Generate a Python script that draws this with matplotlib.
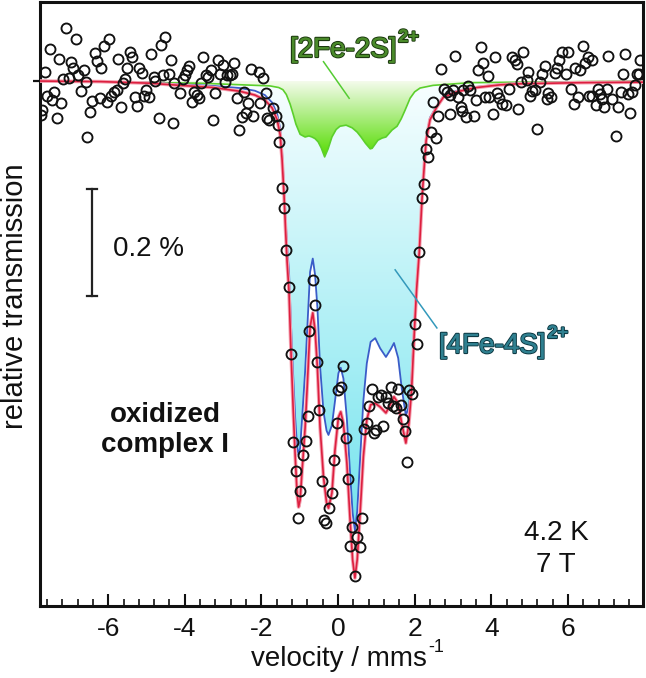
import numpy as np
import matplotlib
matplotlib.use('Agg')
import matplotlib.pyplot as plt
import matplotlib.patheffects as pe
from matplotlib.colors import LinearSegmentedColormap
from matplotlib.patches import Polygon
from matplotlib.ticker import MultipleLocator

plt.rcParams['font.family'] = ['Liberation Sans', 'DejaVu Sans']
plt.rcParams['axes.unicode_minus'] = False

# measured spectrum: velocity (mm/s) and relative transmission change (%)
vel_data = [
    -7.75, -7.73, -7.66, -7.59, -7.53, -7.47, -7.42, -7.34, -7.28, -7.22, -7.18, -7.09, -7.03, -6.98,
    -6.92, -6.85, -6.79, -6.72, -6.64, -6.59, -6.55, -6.48, -6.42, -6.35, -6.28, -6.22, -6.18, -6.11,
    -6.03, -5.99, -5.93, -5.85, -5.78, -5.74, -5.67, -5.61, -5.55, -5.50, -5.43, -5.37, -5.31, -5.24,
    -5.20, -5.12, -5.07, -5.01, -4.93, -4.87, -4.80, -4.77, -4.68, -4.63, -4.57, -4.51, -4.42, -4.37,
    -4.31, -4.27, -4.13, -4.05, -3.99, -3.94, -3.88, -3.82, -3.76, -3.69, -3.62, -3.58, -3.52, -3.45,
    -3.39, -3.32, -3.27, -3.21, -3.14, -3.08, -3.01, -2.95, -2.91, -2.82, -2.76, -2.71, -2.64, -2.58,
    -2.51, -2.45, -2.40, -2.34, -2.28, -2.21, -2.06, -2.04, -1.95, -1.89, -1.86, -1.79, -1.69, -1.62,
    -1.56, -1.53, -1.47, -1.41, -1.36, -1.28, -1.23, -1.17, -1.10, -1.04, -0.99, -0.91, -0.84, -0.79,
    -0.75, -0.66, -0.61, -0.54, -0.49, -0.41, -0.36, -0.31, -0.23, -0.16, -0.10, -0.03, 0.01, 0.07,
    0.14, 0.21, 0.25, 0.31, 0.37, 0.44, 0.50, 0.57, 0.63, 0.68, 0.75, 0.81, 0.88, 0.94,
    0.99, 1.05, 1.12, 1.18, 1.25, 1.30, 1.38, 1.44, 1.51, 1.57, 1.64, 1.69, 1.75, 1.81,
    1.86, 1.94, 2.01, 2.05, 2.12, 2.19, 2.25, 2.30, 2.36, 2.42, 2.49, 2.56, 2.62, 2.68,
    2.77, 2.84, 2.91, 2.92, 2.99, 3.04, 3.14, 3.21, 3.23, 3.27, 3.34, 3.40, 3.45, 3.55,
    3.60, 3.66, 3.73, 3.79, 3.84, 3.92, 3.95, 4.04, 4.10, 4.14, 4.21, 4.27, 4.39, 4.45,
    4.54, 4.62, 4.66, 4.70, 4.78, 4.84, 4.93, 4.97, 5.01, 5.07, 5.13, 5.20, 5.27, 5.33,
    5.40, 5.45, 5.49, 5.56, 5.65, 5.71, 5.77, 5.84, 5.95, 6.01, 6.08, 6.17, 6.19, 6.26,
    6.32, 6.39, 6.45, 6.52, 6.55, 6.62, 6.64, 6.73, 6.78, 6.84, 6.90, 6.95, 7.02, 7.04,
    7.15, 7.25, 7.32, 7.39, 7.45, 7.49, 7.56, 7.62, 7.68, 7.75, 7.80, 7.86, 7.88,
]
trans_data = [
    -0.063, -0.054, 0.017, -0.028, 0.060, -0.035, -0.020, -0.069, 0.041, -0.041, 0.004, 0.099, 0.006, 0.036,
    0.024, 0.078, 0.011, -0.019, 0.020, -0.001, -0.104, -0.057, -0.037, 0.052, 0.038, -0.032, 0.025, 0.065,
    -0.038, 0.079, -0.028, -0.020, -0.017, 0.041, -0.048, -0.004, 0.004, 0.025, 0.054, 0.044, -0.030, -0.046,
    0.024, 0.015, -0.028, -0.017, -0.030, 0.051, 0.008, 0.001, -0.069, 0.067, 0.011, 0.082, 0.014, 0.039,
    -0.078, -0.004, -0.023, 0.003, 0.011, 0.020, 0.028, -0.038, -0.020, -0.026, -0.032, -0.004, 0.045, 0.011,
    0.008, 0.020, -0.072, -0.022, 0.039, 0.014, 0.030, -0.001, 0.011, 0.011, 0.013, 0.033, -0.032, -0.091,
    -0.066, -0.020, -0.060, -0.041, 0.022, -0.065, 0.017, -0.041, 0.005, -0.023, -0.069, -0.072, -0.051, -0.065,
    -0.082, -0.113, -0.198, -0.236, -0.314, -0.382, -0.508, -0.672, -0.725, -0.813, -0.762, -0.696, -0.669, -0.622,
    -0.464, -0.369, -0.416, -0.522, -0.612, -0.744, -0.816, -0.821, -0.793, -0.765, -0.704, -0.635, -0.574, -0.568,
    -0.530, -0.664, -0.740, -0.864, -0.830, -0.921, -0.847, -0.867, -0.813, -0.647, -0.636, -0.605, -0.573, -0.654,
    -0.649, -0.587, -0.584, -0.641, -0.587, -0.599, -0.568, -0.605, -0.607, -0.573, -0.602, -0.629, -0.651, -0.709,
    -0.574, -0.582, -0.452, -0.489, -0.317, -0.218, -0.191, -0.127, -0.142, -0.094, -0.038, -0.105, -0.065, 0.022,
    -0.015, -0.020, -0.061, -0.026, -0.017, 0.046, -0.030, -0.049, -0.055, -0.017, -0.067, -0.009, -0.017, -0.065,
    -0.035, 0.020, 0.063, 0.033, -0.030, 0.009, -0.030, -0.061, 0.044, -0.023, -0.032, -0.043, -0.045, -0.014,
    0.045, 0.039, 0.031, -0.052, -0.001, 0.054, 0.002, 0.017, -0.028, -0.018, -0.017, -0.090, -0.001, 0.013,
    0.028, -0.034, -0.022, -0.030, 0.015, 0.024, 0.040, 0.054, 0.014, 0.054, -0.015, -0.043, 0.024, -0.030,
    0.020, 0.065, 0.033, 0.045, -0.028, -0.028, 0.040, -0.045, -0.015, -0.024, -0.034, -0.048, -0.015, 0.046,
    -0.034, -0.102, -0.049, -0.020, 0.013, 0.050, -0.024, -0.059, -0.020, -0.007, 0.014, 0.014, 0.040,
]

# fitted curves (total fit and the [4Fe-4S] component on one velocity grid)
fit_vel = [
    -7.78, -6.21, -4.91, -4.13, -3.26, -2.56, -2.17, -1.91, -1.72, -1.59, -1.51, -1.46, -1.41, -1.37,
    -1.33, -1.28, -1.23, -1.17, -1.12, -1.07, -1.03, -0.99, -0.95, -0.86, -0.80, -0.73, -0.66, -0.60,
    -0.54, -0.47, -0.38, -0.30, -0.25, -0.16, -0.08, 0.01, 0.07, 0.14, 0.23, 0.31, 0.38, 0.44,
    0.50, 0.57, 0.66, 0.75, 0.85, 0.97, 1.10, 1.25, 1.38, 1.46, 1.57, 1.66, 1.77, 1.85,
    1.92, 1.99, 2.05, 2.12, 2.19, 2.23, 2.30, 2.40, 2.58, 2.75, 3.10, 3.62, 4.23, 4.75,
    6.32, 7.96,
]
total_fit = [
    0.000, -0.001, -0.004, -0.008, -0.012, -0.019, -0.026, -0.035, -0.050, -0.072, -0.100, -0.147, -0.212, -0.277,
    -0.336, -0.392, -0.500, -0.612, -0.695, -0.766, -0.792, -0.779, -0.736, -0.645, -0.561, -0.457, -0.431, -0.463,
    -0.532, -0.643, -0.736, -0.784, -0.794, -0.766, -0.686, -0.625, -0.615, -0.636, -0.710, -0.810, -0.890, -0.924,
    -0.890, -0.810, -0.699, -0.630, -0.602, -0.599, -0.606, -0.617, -0.599, -0.587, -0.599, -0.636, -0.673, -0.636,
    -0.574, -0.468, -0.388, -0.318, -0.221, -0.178, -0.110, -0.072, -0.048, -0.030, -0.020, -0.012, -0.007, -0.005,
    -0.003, -0.002,
]
fe4s4_fit = [
    0.000, -0.001, -0.003, -0.006, -0.009, -0.013, -0.018, -0.026, -0.040, -0.061, -0.088, -0.133, -0.196, -0.255,
    -0.307, -0.355, -0.450, -0.550, -0.625, -0.680, -0.695, -0.682, -0.640, -0.540, -0.455, -0.355, -0.330, -0.360,
    -0.420, -0.530, -0.615, -0.650, -0.658, -0.640, -0.595, -0.543, -0.533, -0.553, -0.628, -0.725, -0.803, -0.836,
    -0.800, -0.710, -0.595, -0.525, -0.485, -0.478, -0.497, -0.513, -0.498, -0.487, -0.515, -0.570, -0.622, -0.605,
    -0.550, -0.455, -0.380, -0.312, -0.216, -0.174, -0.106, -0.068, -0.046, -0.028, -0.018, -0.011, -0.006, -0.004,
    -0.002, -0.001,
]

# [2Fe-2S] component
fe2s2_vel = [
    -7.78, -3.60, -1.78, -1.55, -1.44, -1.35, -1.25, -1.17, -1.10, -0.99, -0.86, -0.76, -0.68, -0.60,
    -0.52, -0.44, -0.35, -0.26, -0.16, -0.05, 0.05, 0.21, 0.37, 0.50, 0.60, 0.72, 0.84, 0.89,
    0.96, 1.04, 1.15, 1.25, 1.41, 1.54, 1.65, 1.75, 1.88, 2.00, 2.14, 2.48, 3.45, 7.96,
]
fe2s2_fit = [
    0.000, -0.004, -0.009, -0.012, -0.016, -0.025, -0.043, -0.062, -0.080, -0.099, -0.104, -0.102, -0.104, -0.107,
    -0.113, -0.124, -0.141, -0.126, -0.104, -0.090, -0.084, -0.082, -0.087, -0.095, -0.104, -0.116, -0.126, -0.125,
    -0.118, -0.110, -0.106, -0.104, -0.091, -0.084, -0.070, -0.054, -0.032, -0.020, -0.013, -0.008, -0.003, 0.000,
]

W, H = 646, 678


def fig_xy(px, py):
    return px / W, 1 - py / H


def gradient_fill(ax, x, y, top_color, bottom_color, z):
    x = np.asarray(x)
    y = np.asarray(y)
    cmap = LinearSegmentedColormap.from_list('grad', [bottom_color, top_color])
    im = ax.imshow(np.linspace(0, 1, 256).reshape(-1, 1), cmap=cmap, aspect='auto',
                   extent=[x[0], x[-1], y.min(), 0], origin='lower', zorder=z,
                   interpolation='bilinear')
    verts = np.column_stack([np.r_[x, x[::-1]], np.r_[y, np.zeros(len(x))]])
    patch = Polygon(verts, closed=True, facecolor='none', edgecolor='none',
                    transform=ax.transData)
    ax.add_patch(patch)
    im.set_clip_path(patch)


def label(px, py, main, sup, color, edge):
    # bracketed cluster name with a bold "2+" charge drawn as its own text
    stroke = [pe.withStroke(linewidth=1.6, foreground=edge), pe.Normal()]
    t = fig.text(*fig_xy(px, py), main, fontsize=20, color=color, ha='left', va='baseline')
    t.set_path_effects(stroke)
    fig.canvas.draw()
    bb = t.get_window_extent()
    s = fig.text((bb.x1 + 2) / W, 1 - (py - 15) / H, sup, fontsize=13, fontweight='bold',
                 color=color, ha='left', va='baseline')
    s.set_path_effects(stroke)


fig = plt.figure(figsize=(W / 100, H / 100), dpi=100)
ax = fig.add_axes([40 / W, 1 - 606 / H, 603 / W, 604 / H])

gradient_fill(ax, fit_vel, fe4s4_fit, '#f8feff', '#74e4ee', 1)
gradient_fill(ax, fe2s2_vel, fe2s2_fit, '#f4fbec', '#55dc00', 2)

ax.plot(fe2s2_vel, fe2s2_fit, color='#5ccf2c', lw=1.2, zorder=3)
ax.plot(fit_vel, fe4s4_fit, color='#3a5cc8', lw=1.3, zorder=3)
ax.plot(fit_vel, total_fit, color='#f5a3b2', lw=2.6, zorder=4, solid_capstyle='round')
ax.plot(fit_vel, total_fit, color='#dc1f3f', lw=1.2, zorder=4)

ax.plot(vel_data, trans_data, 'o', mfc='none', mec='#111111', ms=7.2, mew=1.35, zorder=5)

# connector lines for the component labels
ax.plot([-0.38, 0.29], [0.036, -0.032], color='#55cc33', lw=1.1, zorder=6)
ax.plot([1.49, 2.58], [-0.351, -0.459], color='#3399bb', lw=1.1, zorder=6)

# 0.2 % scale bar
ax.plot([-6.42, -6.42], [-0.2, -0.4], color='#222222', lw=1.6, zorder=6)
ax.plot([-6.56, -6.28], [-0.2, -0.2], color='#222222', lw=1.6, zorder=6)
ax.plot([-6.56, -6.28], [-0.4, -0.4], color='#222222', lw=1.6, zorder=6)

ax.set_xlim(-7.78, 7.96)
ax.set_ylim(-0.976, 0.147)

ax.xaxis.set_major_locator(MultipleLocator(2))
ax.xaxis.set_minor_locator(MultipleLocator(0.4))
ax.tick_params(axis='x', which='major', direction='in', length=9, width=1.5,
               labelsize=19, pad=8, colors='#111111')
ax.tick_params(axis='x', which='minor', direction='in', length=5, width=1.2, colors='#111111')
ax.set_yticks([0])
ax.set_yticklabels([])
ax.tick_params(axis='y', direction='inout', length=10, width=1.6, colors='#111111')
for s in ax.spines.values():
    s.set_linewidth(2.2)
    s.set_color('#111111')

# axis titles
fig.text(*fig_xy(427, 666), 'velocity / mms', fontsize=20, color='#111111', ha='right', va='baseline')
fig.text(*fig_xy(428, 652), '-1', fontsize=13, color='#111111', ha='left', va='baseline')
fig.text(*fig_xy(15, 296), 'relative transmission', fontsize=21, color='#111111', rotation=90,
         ha='center', va='center')

label(290, 57, '[2Fe-2S]', '2+', '#4a8a2a', '#1d3a10')
label(439, 353, '[4Fe-4S]', '2+', '#2f8090', '#0e3a44')

fig.text(*fig_xy(113, 256), '0.2 %', fontsize=20, color='#111111', ha='left', va='baseline')
fig.text(*fig_xy(165, 422), 'oxidized', fontsize=20, fontweight='bold', color='#111111',
         ha='center', va='baseline')
fig.text(*fig_xy(165, 452), 'complex I', fontsize=20, fontweight='bold', color='#111111',
         ha='center', va='baseline')
fig.text(*fig_xy(556, 540), '4.2 K', fontsize=20, color='#111111', ha='center', va='baseline')
fig.text(*fig_xy(556, 572), '7 T', fontsize=20, color='#111111', ha='center', va='baseline')

fig.savefig('out.png', dpi=100)
